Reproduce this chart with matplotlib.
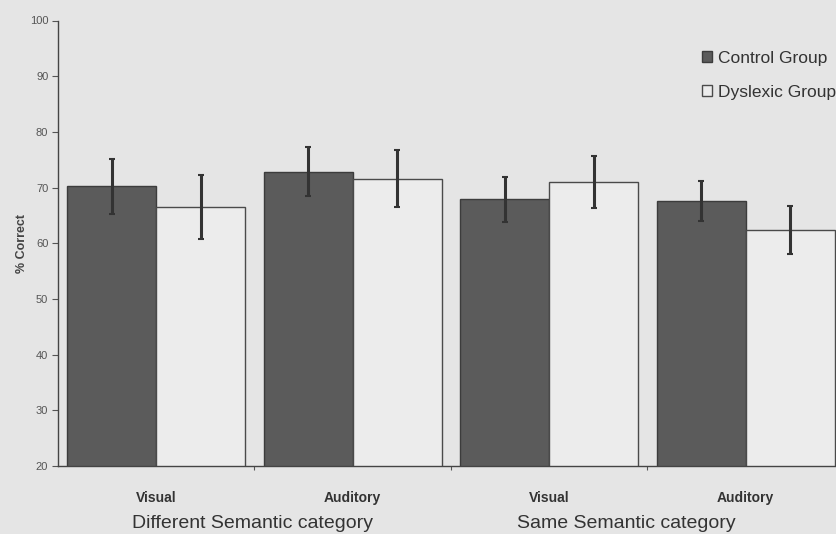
import matplotlib.pyplot as plt
import numpy as np

# mean % correct per condition, with error bars
conditions = ['Visual', 'Auditory', 'Visual', 'Auditory']
control_mean = [70.2, 72.8, 67.9, 67.6]
control_err = [4.9, 4.4, 4.0, 3.6]
dyslexic_mean = [66.5, 71.6, 71.0, 62.3]
dyslexic_err = [5.7, 5.1, 4.7, 4.3]
semantic_groups = ['Different Semantic category', 'Same Semantic category']
semantic_pos = [0.49, 2.39]

paper = '#e5e5e5'
plt.rcParams['font.family'] = ['Liberation Sans', 'DejaVu Sans']

fig = plt.figure(figsize=(8.37, 5.34), dpi=100, facecolor=paper)
ax = fig.add_axes([58 / 837, 68 / 534, 786 / 837, 445.5 / 534])
ax.set_facecolor(paper)

x = np.arange(len(conditions))
w = 0.453

ax.bar(x - w / 2, control_mean, w, color='#5b5b5b',
       edgecolor='#3c3c3c', linewidth=1.0, label='Control Group', zorder=2)
ax.bar(x + w / 2, dyslexic_mean, w, color='#ececec',
       edgecolor='#4a4a4a', linewidth=1.0, label='Dyslexic Group', zorder=2)

ax.errorbar(x - w / 2, control_mean, yerr=control_err, fmt='none',
            ecolor='#333333', elinewidth=2.2, capsize=2.5, capthick=1.5, zorder=3)
ax.errorbar(x + w / 2, dyslexic_mean, yerr=dyslexic_err, fmt='none',
            ecolor='#333333', elinewidth=2.2, capsize=2.5, capthick=1.5, zorder=3)

ax.set_xlim(-0.5, 3.5)
ax.set_ylim(20, 100)
ax.set_yticks(range(20, 101, 10))
ax.tick_params(axis='y', direction='out', length=4, width=0.8,
               color='#555555', labelsize=8, labelcolor='#555555', pad=3)

# category names under each pair, boundary ticks between pairs
ax.set_xticks(x)
ax.set_xticklabels(conditions, fontsize=10, fontweight='bold', color='#333333')
ax.tick_params(axis='x', which='major', length=0, pad=18)
ax.set_xticks([0.5, 1.5, 2.5], minor=True)
ax.tick_params(axis='x', which='minor', direction='out', length=3,
               width=0.8, color='#555555')

for s in ['top', 'right']:
    ax.spines[s].set_visible(False)
for s in ['left', 'bottom']:
    ax.spines[s].set_color('#444444')
    ax.spines[s].set_linewidth(1.0)

ax.set_ylabel('% Correct', fontsize=9, fontweight='bold', color='#444444', labelpad=1)

for name, pos in zip(semantic_groups, semantic_pos):
    ax.text(pos, -0.13, name, transform=ax.get_xaxis_transform(),
            ha='center', va='center', fontsize=14, color='#333333')

ax.legend(loc='upper left', bbox_to_anchor=(695 / 837, 1 - 44 / 534),
          bbox_transform=fig.transFigure, frameon=False, fontsize=12.5,
          handlelength=0.6, handleheight=0.6, handletextpad=0.3,
          labelspacing=1.1, borderaxespad=0, labelcolor='#333333')

fig.savefig('out.png', dpi=100, facecolor=paper)
